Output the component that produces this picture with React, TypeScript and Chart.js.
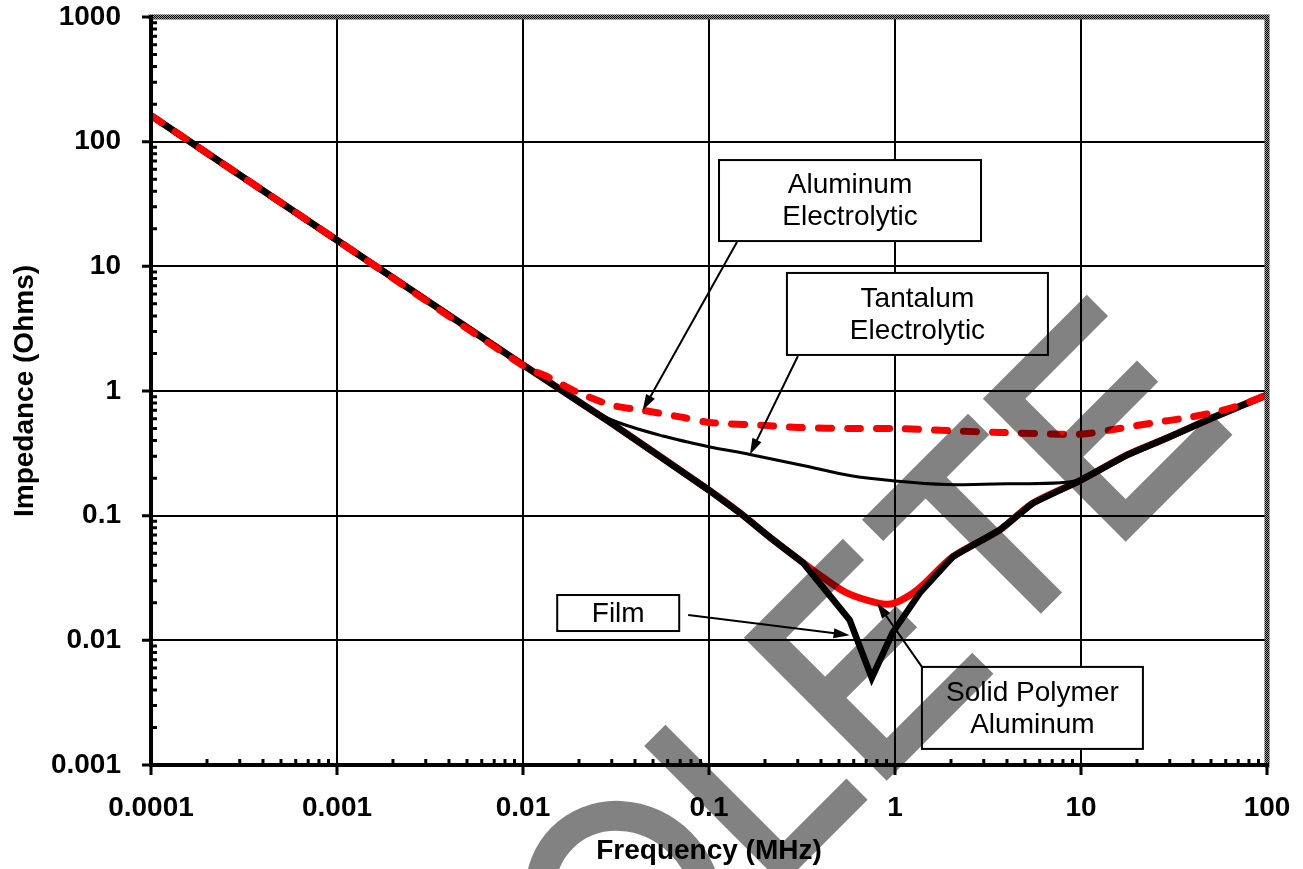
import React, { useEffect, useRef } from 'react';
import { Chart, registerables } from 'chart.js';

Chart.register(...registerables);

// ---------- data ----------
const xTickValues = [0.0001, 0.001, 0.01, 0.1, 1, 10, 100];
const xTickLabels = ['0.0001', '0.001', '0.01', '0.1', '1', '10', '100'];
const yTickValues = [0.001, 0.01, 0.1, 1, 10, 100, 1000];
const yTickLabels = ['0.001', '0.01', '0.1', '1', '10', '100', '1000'];

const aluminumFreq = [0.0001, 0.001, 0.01, 0.014, 0.0195, 0.03, 0.044, 0.07, 0.1, 0.2, 0.3, 0.6, 1, 2, 3.7, 6, 10, 14.3, 23.5, 37, 51, 72, 100];
const aluminumZ = [162, 16.2, 1.6, 1.27, 0.98, 0.77, 0.7, 0.62, 0.56, 0.53, 0.51, 0.5, 0.5, 0.48, 0.465, 0.455, 0.45, 0.486, 0.55, 0.61, 0.67, 0.77, 0.93];

const tantalumFreq = [0.0001, 0.001, 0.01, 0.02, 0.0305, 0.0566, 0.101, 0.166, 0.33, 0.57, 1.0, 1.9, 4.0, 10, 17.7, 29, 51, 100];
const tantalumZ = [162, 16.2, 1.62, 0.83, 0.58, 0.435, 0.356, 0.31, 0.25, 0.21, 0.19, 0.178, 0.18, 0.193, 0.307, 0.42, 0.61, 0.93];

const filmFreq = [0.0001, 0.001, 0.01, 0.0195, 0.0305, 0.1, 0.147, 0.221, 0.32, 0.57, 0.75, 0.97, 1.36, 2.05, 3.67, 5.5, 10, 17.7, 29, 51, 100];
const filmZ = [162, 16.2, 1.62, 0.84, 0.54, 0.16, 0.105, 0.064, 0.042, 0.0146, 0.005, 0.0115, 0.024, 0.047, 0.077, 0.126, 0.193, 0.307, 0.42, 0.61, 0.93];

const polymerFreq = [0.0001, 0.001, 0.01, 0.0195, 0.0305, 0.1, 0.147, 0.221, 0.32, 0.41, 0.55, 0.8, 0.97, 1.2, 1.42, 2.05, 3.67, 5.5, 10, 17.7, 29, 51, 100];
const polymerZ = [162, 16.2, 1.62, 0.84, 0.54, 0.16, 0.105, 0.064, 0.042, 0.032, 0.024, 0.02, 0.0197, 0.023, 0.028, 0.047, 0.077, 0.126, 0.193, 0.307, 0.42, 0.61, 0.93];

// annotation callouts: text, box centre (data coords), arrow tip (data coords)
const calloutLabels = [['Aluminum', 'Electrolytic'], ['Tantalum', 'Electrolytic'], ['Film'], ['Solid Polymer', 'Aluminum']];
const calloutBoxAt = [[0.573, 33.7], [1.32, 4.15], [0.0325, 0.01656], [5.48, 0.00287]];
const calloutTipAt = [[0.044, 0.7], [0.166, 0.31], [0.57, 0.011], [0.8, 0.02]];

const watermarkText = 'OBSOLETE';

// ---------- styling ----------
const FONT = "'Liberation Sans', Arial, sans-serif";
const boxSizes = [[262, 81], [261, 82], [122, 36], [221, 82]];
const tailOffsets = [[-113, 41.5], [-119.5, 42], [70, 2], [-110.5, -41]];

const pts = (xs: number[], ys: number[]) => xs.map((v, i) => ({ x: v, y: ys[i] }));

function makeDither(): CanvasPattern | string {
  const c = document.createElement('canvas');
  c.width = 2;
  c.height = 2;
  const g = c.getContext('2d');
  if (!g) return '#444';
  g.fillStyle = '#9a9a9a';
  g.fillRect(0, 0, 2, 2);
  g.fillStyle = '#000';
  g.fillRect(0, 0, 1, 1);
  g.fillRect(1, 1, 1, 1);
  const p = g.createPattern(c, 'repeat');
  return p || '#444';
}

const framePlugin = {
  id: 'frame',
  afterDatasetsDraw(chart: any) {
    const { ctx, chartArea, scales } = chart;
    const { left, right, top, bottom } = chartArea;
    const x = scales.x;
    const y = scales.y;
    ctx.save();
    ctx.strokeStyle = makeDither();
    ctx.lineWidth = 5;
    ctx.lineCap = 'square';
    ctx.beginPath();
    ctx.moveTo(left, top);
    ctx.lineTo(right, top);
    ctx.lineTo(right, bottom);
    ctx.stroke();

    ctx.strokeStyle = '#000';
    ctx.lineWidth = 4;
    ctx.beginPath();
    ctx.moveTo(left, top);
    ctx.lineTo(left, bottom);
    ctx.lineTo(right, bottom);
    ctx.stroke();

    ctx.lineCap = 'butt';
    ctx.lineWidth = 3;
    ctx.beginPath();
    for (const v of yTickValues) {
      const py = y.getPixelForValue(v);
      ctx.moveTo(left - 9, py);
      ctx.lineTo(left, py);
    }
    for (const v of xTickValues) {
      const px = x.getPixelForValue(v);
      ctx.moveTo(px, bottom);
      ctx.lineTo(px, bottom + 10);
    }
    for (let i = 0; i < yTickValues.length - 1; i++) {
      for (let m = 2; m <= 9; m++) {
        const py = y.getPixelForValue(m * yTickValues[i]);
        ctx.moveTo(left, py);
        ctx.lineTo(left + 6, py);
      }
    }
    for (let i = 0; i < xTickValues.length - 1; i++) {
      for (let m = 2; m <= 9; m++) {
        const px = x.getPixelForValue(m * xTickValues[i]);
        ctx.moveTo(px, bottom);
        ctx.lineTo(px, bottom - 6);
      }
    }
    ctx.stroke();

    // callouts
    ctx.font = `28px ${FONT}`;
    ctx.textAlign = 'center';
    ctx.textBaseline = 'middle';
    calloutLabels.forEach((lines, i) => {
      const cx = x.getPixelForValue(calloutBoxAt[i][0]);
      const cy = y.getPixelForValue(calloutBoxAt[i][1]);
      const tx = x.getPixelForValue(calloutTipAt[i][0]);
      const ty = y.getPixelForValue(calloutTipAt[i][1]);
      const sx = cx + tailOffsets[i][0];
      const sy = cy + tailOffsets[i][1];
      const ang = Math.atan2(ty - sy, tx - sx);
      const hl = 16;
      const hw = 5;
      ctx.strokeStyle = '#000';
      ctx.fillStyle = '#000';
      ctx.lineWidth = 2;
      ctx.beginPath();
      ctx.moveTo(sx, sy);
      ctx.lineTo(tx - Math.cos(ang) * hl * 0.8, ty - Math.sin(ang) * hl * 0.8);
      ctx.stroke();
      ctx.beginPath();
      ctx.moveTo(tx, ty);
      ctx.lineTo(tx - Math.cos(ang) * hl - Math.sin(ang) * hw, ty - Math.sin(ang) * hl + Math.cos(ang) * hw);
      ctx.lineTo(tx - Math.cos(ang) * hl + Math.sin(ang) * hw, ty - Math.sin(ang) * hl - Math.cos(ang) * hw);
      ctx.closePath();
      ctx.fill();
      const [w, h] = boxSizes[i];
      ctx.fillStyle = '#fff';
      ctx.fillRect(cx - w / 2, cy - h / 2, w, h);
      ctx.lineWidth = 2;
      ctx.strokeRect(cx - w / 2, cy - h / 2, w, h);
      ctx.fillStyle = '#000';
      const lh = 32;
      lines.forEach((t, k) => {
        ctx.fillText(t, cx, cy + (k - (lines.length - 1) / 2) * lh + 1);
      });
    });
    ctx.restore();
  },
};

const watermarkPlugin = {
  id: 'watermark',
  afterDraw(chart: any) {
    const { ctx } = chart;
    const s = Math.SQRT1_2;
    const P = (a: number, b: number): [number, number] => [(a + b) * s, (b - a) * s];
    const top = 992;
    const bot = 1164;
    const mid = 1077;
    const strokes: number[][][] = [
      // L
      [[-57, 983], [-57, bot], [48, bot]],
      // E
      [[215, top], [90, top], [90, bot], [226, bot]],
      [[90, mid], [205, mid]],
      // T
      [[242, top], [392, top]],
      [[317, top], [317, 1170]],
      // E
      [[560, top], [428, top], [428, bot], [564, bot]],
      [[428, mid - 3], [549, mid - 3]],
    ];
    ctx.save();
    ctx.strokeStyle = 'rgba(0,0,0,0.49)';
    ctx.lineWidth = 30;
    ctx.lineCap = 'butt';
    ctx.lineJoin = 'miter';
    ctx.beginPath();
    for (const poly of strokes) {
      poly.forEach(([a, b], k) => {
        const [px, py] = P(a, b);
        if (k === 0) ctx.moveTo(px, py);
        else ctx.lineTo(px, py);
      });
    }
    const [ox, oy] = P(-195, 1077);
    const ra = 80;
    const rb = 87;
    ctx.moveTo(ox + ra * s, oy - ra * s);
    ctx.ellipse(ox, oy, ra, rb, -Math.PI / 4, 0, Math.PI * 2);
    ctx.stroke();
    ctx.restore();
    void watermarkText;
  },
};

export default function App() {
  const ref = useRef<HTMLCanvasElement>(null);
  useEffect(() => {
    const canvas = ref.current;
    if (!canvas) return;
    const tickFont = { family: FONT, size: 28, weight: 'bold' as const };
    const chart = new Chart(canvas, {
      type: 'scatter',
      data: {
        datasets: [
          {
            label: 'Aluminum Electrolytic',
            data: pts(aluminumFreq, aluminumZ),
            showLine: true,
            borderColor: '#ff0000',
            borderWidth: 7,
            borderDash: [13, 16],
            borderCapStyle: 'round',
            pointRadius: 0,
            tension: 0.3,
          },
          {
            label: 'Tantalum Electrolytic',
            data: pts(tantalumFreq, tantalumZ),
            showLine: true,
            borderColor: '#000',
            borderWidth: 3,
            pointRadius: 0,
            tension: 0.3,
          },
          {
            label: 'Film',
            data: pts(filmFreq, filmZ),
            showLine: true,
            borderColor: '#000',
            borderWidth: 6.5,
            pointRadius: 0,
            tension: 0,
          },
          {
            label: 'Solid Polymer Aluminum',
            data: pts(polymerFreq, polymerZ),
            showLine: true,
            borderColor: '#ff0000',
            borderWidth: 7,
            pointRadius: 0,
            tension: 0.3,
          },
        ],
      },
      options: {
        animation: false,
        responsive: false,
        devicePixelRatio: 1,
        layout: { padding: { left: 0, top: 17, right: 36, bottom: 0 } },
        plugins: { legend: { display: false }, tooltip: { enabled: false } },
        scales: {
          x: {
            type: 'logarithmic',
            min: 0.0001,
            max: 100,
            afterBuildTicks: (s: any) => {
              s.ticks = xTickValues.map((v) => ({ value: v, major: true }));
            },
            afterFit: (s: any) => {
              s.height = 104;
              s.paddingLeft = 0;
              s.paddingRight = 0;
              s.paddingTop = 0;
              s.paddingBottom = 0;
            },
            ticks: {
              callback: (_v: any, i: number) => xTickLabels[i],
              font: tickFont,
              color: '#000',
              padding: 26,
              maxRotation: 0,
              autoSkip: false,
            },
            grid: { color: '#000', lineWidth: 2, drawTicks: false },
            border: { display: false },
            title: {
              display: true,
              text: 'Frequency (MHz)',
              font: tickFont,
              color: '#000',
              padding: { top: 0, bottom: 1 },
            },
          },
          y: {
            type: 'logarithmic',
            min: 0.001,
            max: 1000,
            afterBuildTicks: (s: any) => {
              s.ticks = yTickValues.map((v) => ({ value: v, major: true }));
            },
            afterFit: (s: any) => {
              s.width = 151;
              s.paddingLeft = 0;
              s.paddingRight = 0;
              s.paddingTop = 0;
              s.paddingBottom = 0;
            },
            ticks: {
              callback: (_v: any, i: number) => yTickLabels[i],
              font: tickFont,
              color: '#000',
              padding: 30,
              autoSkip: false,
            },
            grid: { color: '#000', lineWidth: 2, drawTicks: false },
            border: { display: false },
            title: {
              display: true,
              text: 'Impedance (Ohms)',
              font: tickFont,
              color: '#000',
              padding: { top: 8, bottom: 0 },
            },
          },
        },
      } as any,
      plugins: [framePlugin, watermarkPlugin],
    });
    return () => chart.destroy();
  }, []);
  return (
    <div style={{ position: 'fixed', left: 0, top: 0, width: 1303, height: 869, background: '#fff' }}>
      <canvas ref={ref} width={1303} height={869} style={{ display: 'block', width: 1303, height: 869 }} />
    </div>
  );
}
